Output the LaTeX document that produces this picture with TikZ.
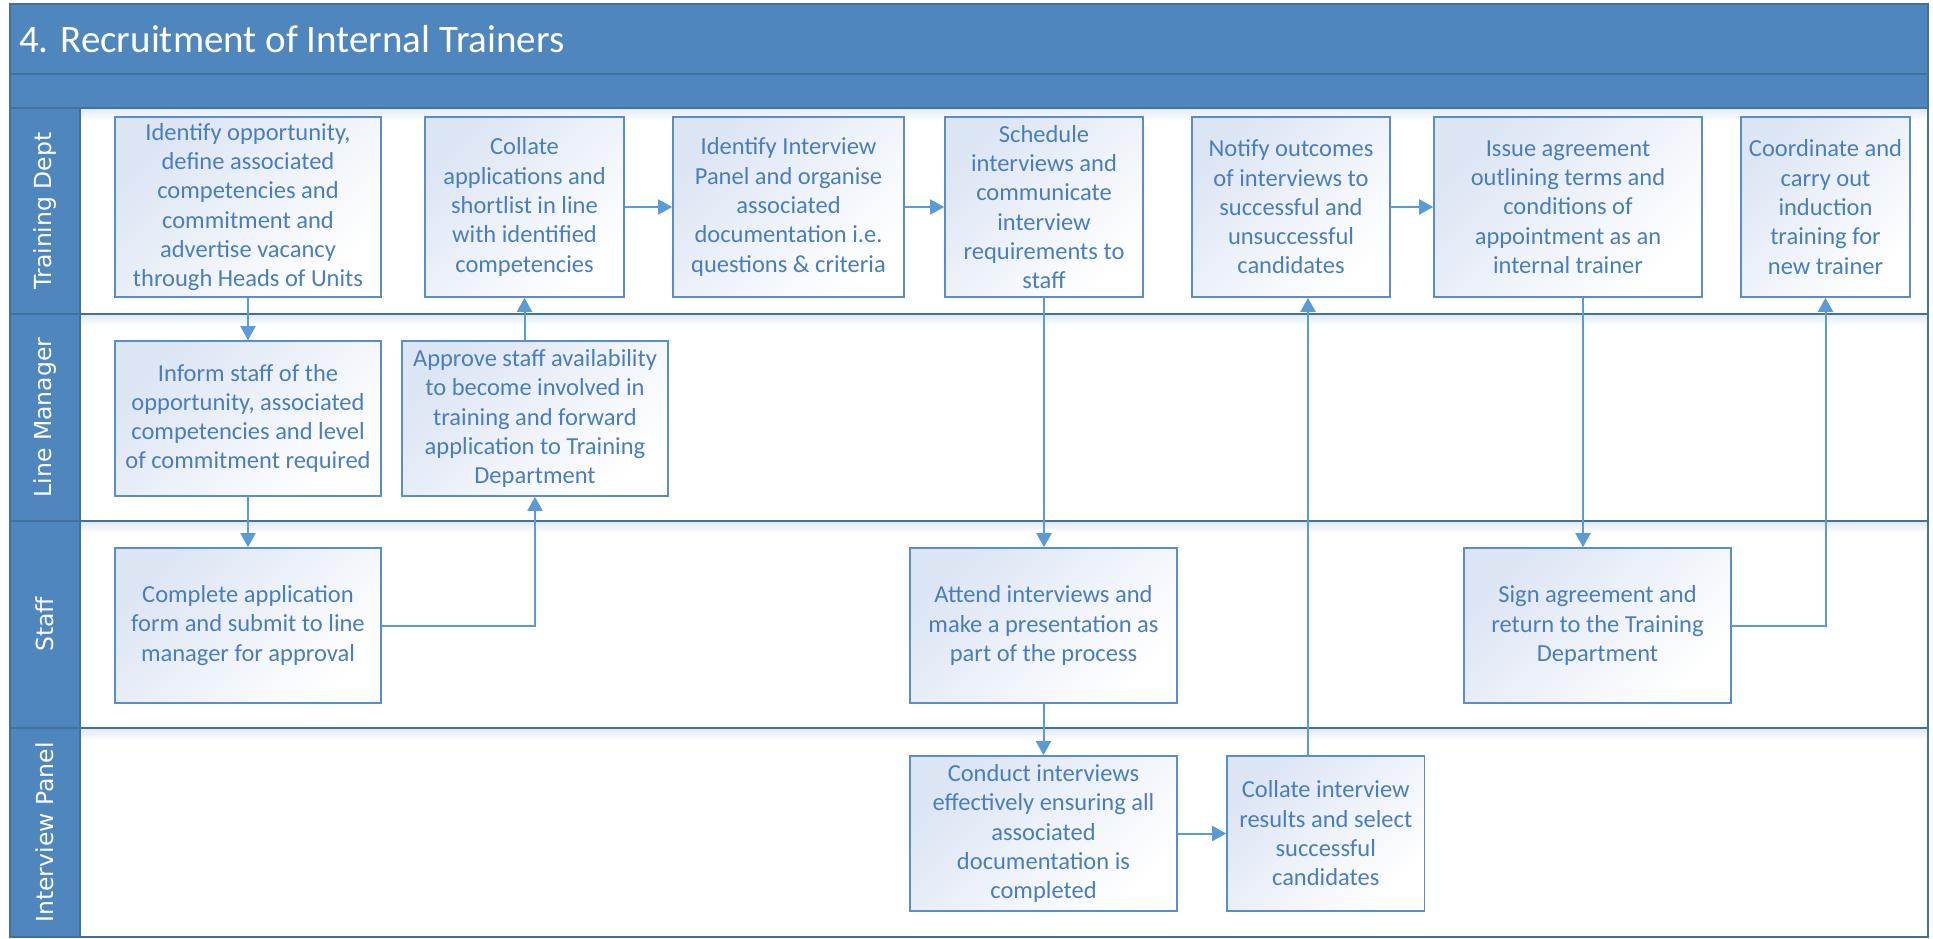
\documentclass[tikz,border=0pt]{standalone}
\usepackage{fontspec}
\setmainfont{Carlito}
\newfontfamily\lanefont{DejaVu Sans}
\usetikzlibrary{arrows.meta}
\definecolor{hdr}{HTML}{4F86BD}
\definecolor{hdrline}{HTML}{41719C}
\definecolor{boxborder}{HTML}{5A8ECB}
\definecolor{boxtop}{HTML}{DCE5F4}
\definecolor{txt}{HTML}{4A7EBB}
\definecolor{arr}{HTML}{5B9BD5}
\definecolor{shadowc}{HTML}{DFE8F4}
\tikzset{
  stepbox/.style={draw=boxborder, line width=1.6pt, bottom color=white, top color=boxtop, shading angle=45,
    text=txt, font=\fontsize{24.5}{29.3}\selectfont, align=center, inner sep=0pt, minimum height=155pt},
  conn/.style={draw=arr, line width=2pt, -{Triangle[length=14pt,width=15pt]}},
  lanelabel/.style={rotate=90, text=white, font=\lanefont\fontsize{23.5}{28}\selectfont, inner sep=0pt},
  sepline/.style={draw=hdrline, line width=2pt},
}
\begin{document}
\begin{tikzpicture}[x=1pt,y=-1pt]
\useasboundingbox (0,0) rectangle (1933,939);
\fill[white] (0,0) rectangle (1933,939);
% header bands
\fill[hdr] (10,4) rectangle (1928,108);
\fill[hdr] (10,108) rectangle (80,937);
% shadows under separators
\foreach \yy in {108,314,521,728}{
  \shade[top color=shadowc, bottom color=white] (81,\yy) rectangle (1927,\yy+12);
}
% separators
\draw[sepline] (10,74) -- (1928,74);
\draw[sepline] (10,108) -- (1928,108);
\draw[sepline] (10,314) -- (1928,314);
\draw[sepline] (10,521) -- (1928,521);
\draw[sepline] (10,728) -- (1928,728);
\draw[draw=hdrline, line width=1.5pt] (80,108) -- (80,937);
\draw[draw=hdrline, line width=2pt] (10,4) rectangle (1928,937);
% title
\node[anchor=west, text=white, font=\fontsize{39}{47}\selectfont, inner sep=0pt] (title) at (19,39) {4. Recruitment of Internal Trainers};
% lane labels
\node[lanelabel] (l1) at (45,211) {Training Dept};
\node[lanelabel] (l2) at (45,417.5) {Line Manager};
\node[lanelabel] (l3) at (45,624.5) {Staff};
\node[lanelabel] (l4) at (45,832.5) {Interview Panel};
% Training Dept boxes
\node[stepbox, minimum width=266pt, minimum height=180pt] (b1) at (248,207) {Identify opportunity,\\define associated\\competencies and\\commitment and\\advertise vacancy\\through Heads of Units};
\node[stepbox, minimum width=199pt, minimum height=180pt] (b2) at (524.5,207) {Collate\\applications and\\shortlist in line\\with identified\\competencies};
\node[stepbox, minimum width=231pt, minimum height=180pt] (b3) at (788.5,207) {Identify Interview\\Panel and organise\\associated\\documentation i.e.\\questions \& criteria};
\node[stepbox, minimum width=198pt, minimum height=180pt] (b4) at (1044,207) {Schedule\\interviews and\\communicate\\interview\\requirements to\\staff};
\node[stepbox, minimum width=198pt, minimum height=180pt] (b5) at (1291,207) {Notify outcomes\\of interviews to\\successful and\\unsuccessful\\candidates};
\node[stepbox, minimum width=268pt, minimum height=180pt] (b6) at (1568,207) {Issue agreement\\outlining terms and\\conditions of\\appointment as an\\internal trainer};
\node[stepbox, minimum width=169pt, minimum height=180pt] (b7) at (1825.5,207) {Coordinate and\\carry out\\induction\\training for\\new trainer};
% Line Manager boxes
\node[stepbox, minimum width=266pt] (inform) at (248,418.5) {Inform staff of the\\opportunity, associated\\competencies and level\\of commitment required};
\node[stepbox, minimum width=266pt] (approve) at (535,418.5) {Approve staff availability\\to become involved in\\training and forward\\application to Training\\Department};
% Staff boxes
\node[stepbox, minimum width=266pt] (complete) at (248,625.5) {Complete application\\form and submit to line\\manager for approval};
\node[stepbox, minimum width=267pt] (attend) at (1043.5,625.5) {Attend interviews and\\make a presentation as\\part of the process};
\node[stepbox, minimum width=267pt] (sign) at (1597.5,625.5) {Sign agreement and\\return to the Training\\Department};
% Interview Panel boxes
\node[stepbox, minimum width=267pt] (conduct) at (1043.5,833.5) {Conduct interviews\\effectively ensuring all\\associated\\documentation is\\completed};
\node[stepbox, minimum width=197.5pt] (collate) at (1325.75,833.5) {Collate interview\\results and select\\successful\\candidates};
% helper coordinates
\coordinate (cx9) at (1308,0);
\coordinate (cx10) at (1583,0);
% connectors
\draw[conn] (b2.east) -- (b3.west);
\draw[conn] (b3.east) -- (b4.west);
\draw[conn] (b5.east) -- (b6.west);
\draw[conn] (b1.south) -- (inform.north);
\draw[conn] (inform.south) -- (complete.north);
\draw[conn] (complete.east) -| (approve.south);
\draw[conn] (approve.north -| b2.south) -- (b2.south);
\draw[conn] (b4.south) -- (attend.north -| b4.south);
\draw[conn] (attend.south) -- (conduct.north);
\draw[conn] (conduct.east) -- (collate.west);
\draw[conn] (collate.north -| cx9) -- (b5.south -| cx9);
\draw[conn] (b6.south -| cx10) -- (sign.north -| cx10);
\draw[conn] (sign.east) -| (b7.south);
\end{tikzpicture}
\end{document}
